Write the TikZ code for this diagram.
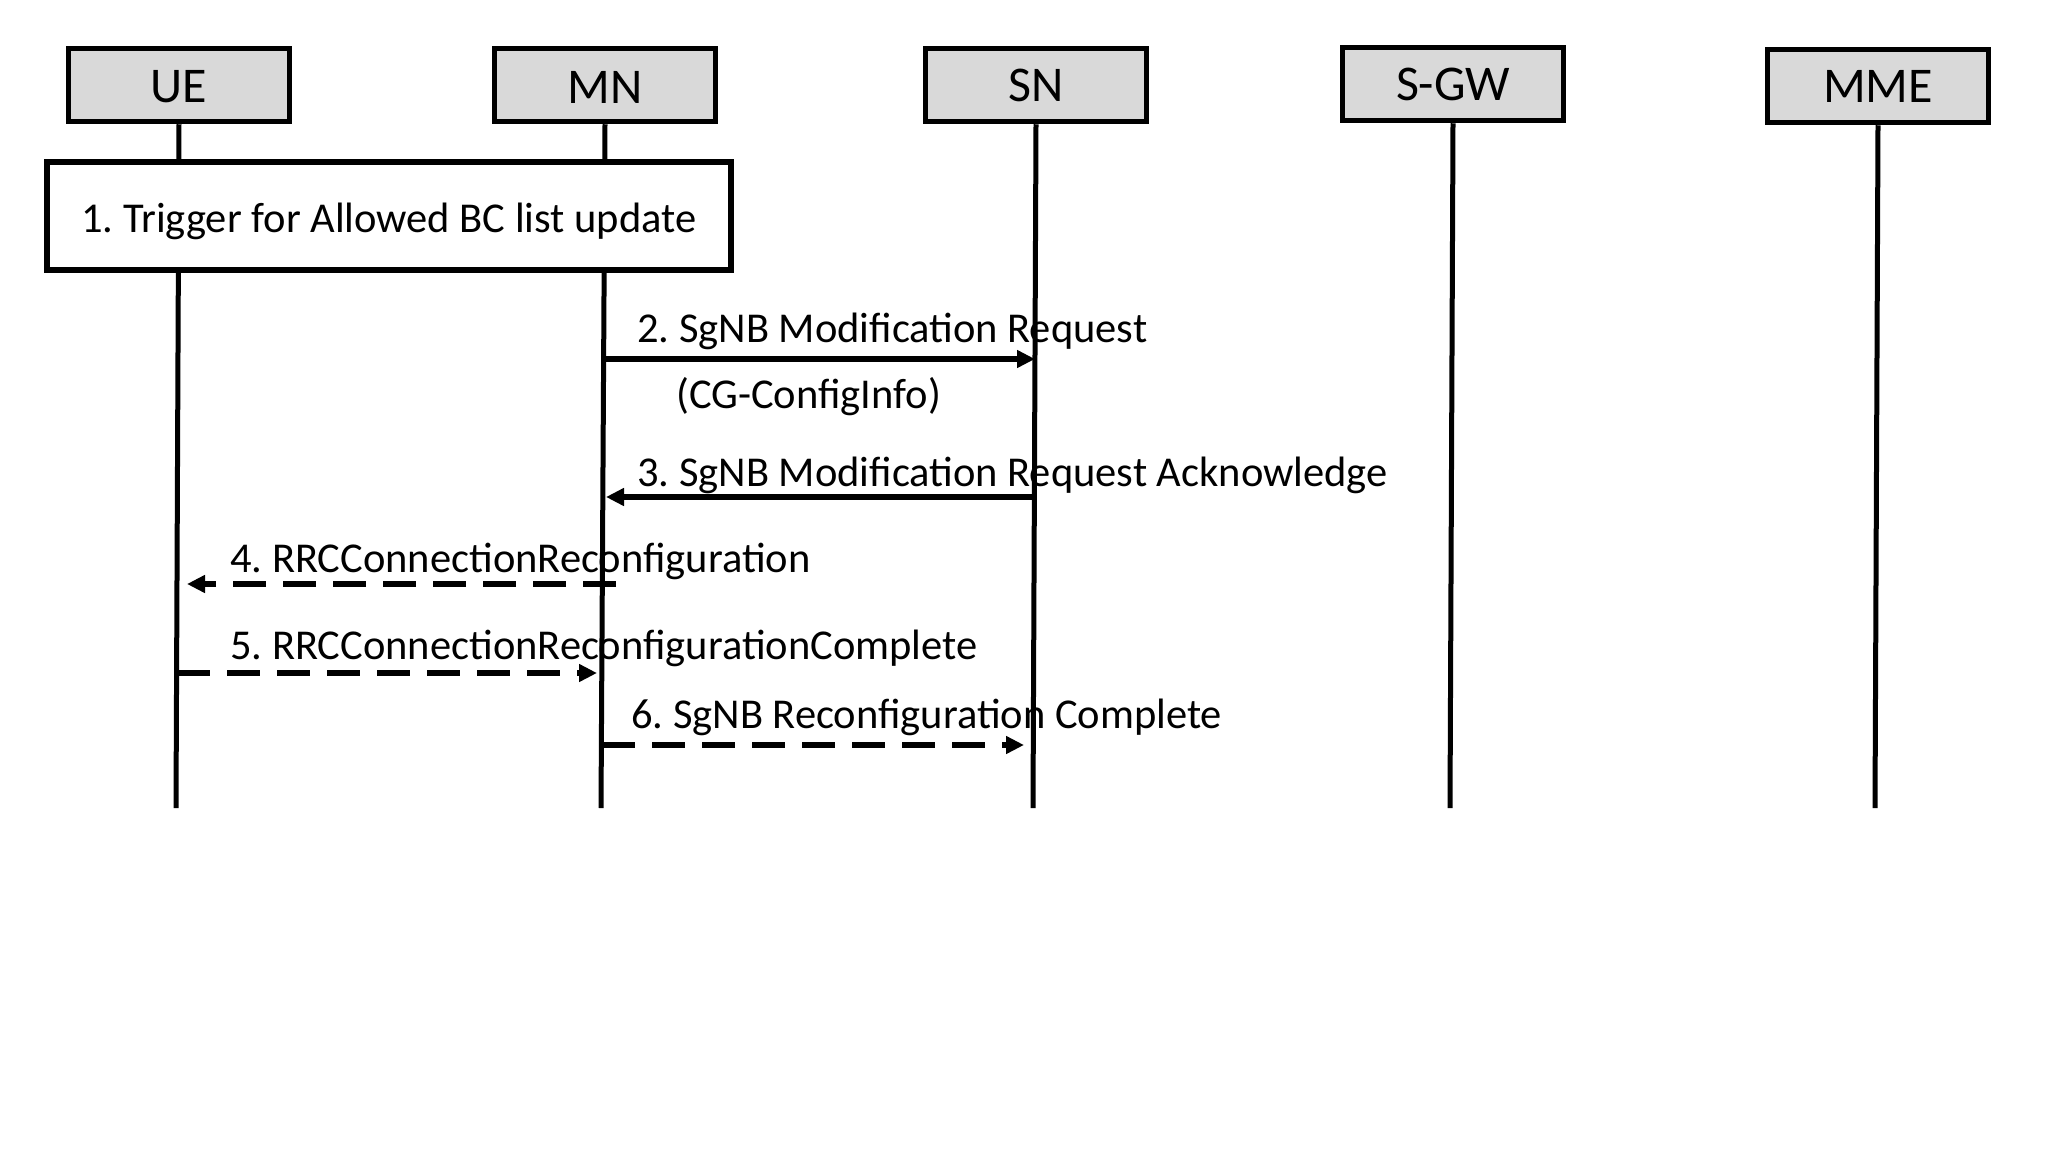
\documentclass[tikz,border=0pt]{standalone}
\usepackage{fontspec}
\setmainfont{Carlito}
\usetikzlibrary{arrows.meta}
\definecolor{boxgray}{HTML}{D9D9D9}
\frenchspacing
\begin{document}
\begin{tikzpicture}[x=1pt,y=-1pt,
  actor/.style={draw,line width=5.5pt,fill=boxgray,minimum width=221pt,minimum height=73pt,inner sep=0pt,font=\fontsize{50}{58}\selectfont},
  trig/.style={draw,line width=5.5pt,fill=white,minimum width=684pt,minimum height=108pt,inner sep=0pt,font=\fontsize{42.5}{50}\selectfont},
  life/.style={line width=5pt},
  msg/.style={line width=5.5pt,-{Triangle[length=18pt,width=17pt]}},
  dmsg/.style={msg,dash pattern=on 33pt off 17pt},
  lbl/.style={anchor=base west,inner sep=0pt,font=\fontsize{42.5}{50}\selectfont}]
\useasboundingbox (0,0) rectangle (2048,1173);
% actors
\node[actor] (ue)  at (179,85)  {\raisebox{-2pt}[\height][\depth]{UE}};
\node[actor] (mn)  at (605,85)  {\raisebox{-2pt}[\height][\depth]{MN}};
\node[actor] (sn)  at (1036,85) {SN};
\node[actor] (sgw) at (1453,84) {S-GW};
\node[actor] (mme) at (1878,86) {MME};
% lifeline ends
\coordinate (ueE)  at (176,808);
\coordinate (mnE)  at (601,808);
\coordinate (snE)  at (1033,808);
\coordinate (sgwE) at (1450,808);
\coordinate (mmeE) at (1875,808);
\draw[life] (ue.south) -- (ueE);
\draw[life] (mn.south) -- (mnE);
\draw[life] (sn.south) -- (snE);
\draw[life] (sgw.south) -- (sgwE);
\draw[life] (mme.south) -- (mmeE);
% trigger box
\node[trig] (trig) at (389,216) {\raisebox{-5pt}[\height][\depth]{1. Trigger for Allowed BC list update}};
% message end points
\coordinate (mn2) at (604,359);  \coordinate (sn2) at (1035,359);
\coordinate (sn3) at (1035,497); \coordinate (mn3) at (606,497);
\coordinate (mn4) at (616,584);  \coordinate (ue4) at (187,584);
\coordinate (ue5) at (177,673);  \coordinate (mn5) at (597,673);
\coordinate (mn6) at (602,745);  \coordinate (sn6) at (1024,745);
\draw[msg]  (mn2) -- (sn2);
\draw[msg]  (sn3) -- (mn3);
\draw[dmsg] (mn4) -- (ue4);
\draw[dmsg] (ue5) -- (mn5);
\draw[dmsg] (mn6) -- (sn6);
% labels
\node[lbl] (l2)  at (637,342) {2. SgNB Modification Request};
\node[lbl] (l2b) at (676,408) {(CG-ConfigInfo)};
\node[lbl] (l3)  at (637,486) {3. SgNB Modification Request Acknowledge};
\node[lbl] (l4)  at (230,572) {4. RRCConnectionReconfiguration};
\node[lbl] (l5)  at (230,659) {5. RRCConnectionReconfigurationComplete};
\node[lbl] (l6)  at (631,728) {6. SgNB Reconfiguration Complete};
\end{tikzpicture}
\end{document}
